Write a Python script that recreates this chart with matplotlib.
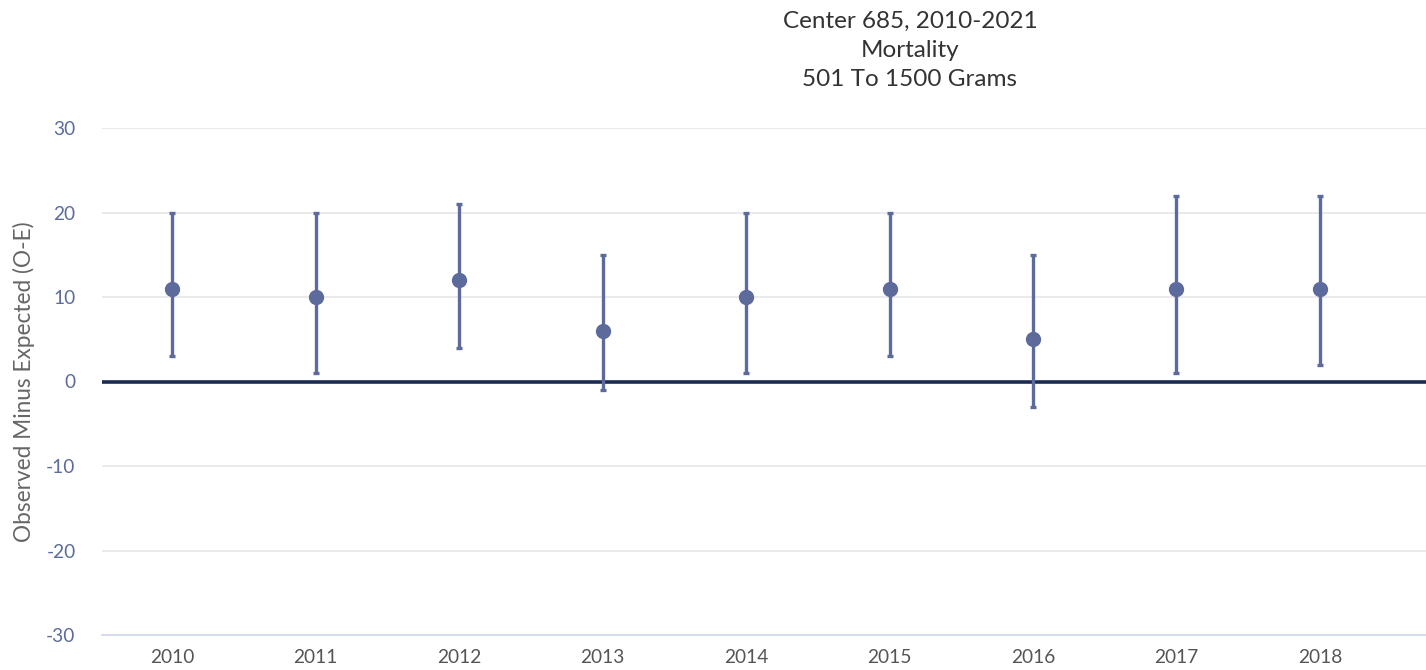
import matplotlib

matplotlib.use("Agg")
import matplotlib.pyplot as plt
import numpy as np

plt.rcParams["font.family"] = ["Lato", "DejaVu Sans"]
plt.rcParams["axes.unicode_minus"] = False

# %% data
years = ["2010", "2011", "2012", "2013", "2014", "2015", "2016", "2017", "2018"]
o_minus_e = [11, 10, 12, 6, 10, 11, 5, 11, 11]
upper = [20, 20, 21, 15, 20, 20, 15, 22, 22]
lower = [3, 1, 4, -1, 1, 3, -3, 1, 2]

title_lines = ["Center 685, 2010-2021", "Mortality", "501 To 1500 Grams"]

# %% plot
marker_color = "#5c6b9b"
x = np.arange(len(years))
yerr = np.array([np.array(o_minus_e) - np.array(lower), np.array(upper) - np.array(o_minus_e)])

fig = plt.figure(figsize=(14.26, 6.70), dpi=100)
ax = fig.add_axes([102 / 1426, 1 - 635 / 670, 1 - 102 / 1426, (635 - 128) / 670])

ax.set_ylim(-30, 30)
ax.set_xlim(-0.49, 8.74)
ax.set_yticks([-30, -20, -10, 0, 10, 20, 30])
ax.grid(axis="y", color="#e6e6e6", linewidth=1.2)
ax.set_axisbelow(True)

ax.axhline(0, color="#1b2a52", linewidth=2.6, zorder=2)

ax.errorbar(
    x,
    o_minus_e,
    yerr=yerr,
    fmt="o",
    color=marker_color,
    ecolor=marker_color,
    elinewidth=2.4,
    capsize=2.5,
    capthick=2.4,
    markersize=10,
    zorder=3,
)

ax.set_xticks(x)
ax.set_xticklabels(years)
for s in ["top", "right", "left"]:
    ax.spines[s].set_visible(False)
ax.spines["bottom"].set_color("#ccd6eb")
ax.spines["bottom"].set_linewidth(1.2)
ax.tick_params(axis="x", length=0, pad=10, labelsize=13.8, labelcolor="#555555")
ax.tick_params(axis="y", length=0, pad=19, labelsize=13.8, labelcolor="#5c6b9b")

ax.set_ylabel("Observed Minus Expected (O-E)", fontsize=16.3, color="#666666", labelpad=8)

fig.text(910 / 1426, 1 - 11 / 670, "\n".join(title_lines), ha="center", va="top",
         fontsize=17.5, color="#333333", linespacing=1.48)

fig.savefig("out.png", dpi=100)
